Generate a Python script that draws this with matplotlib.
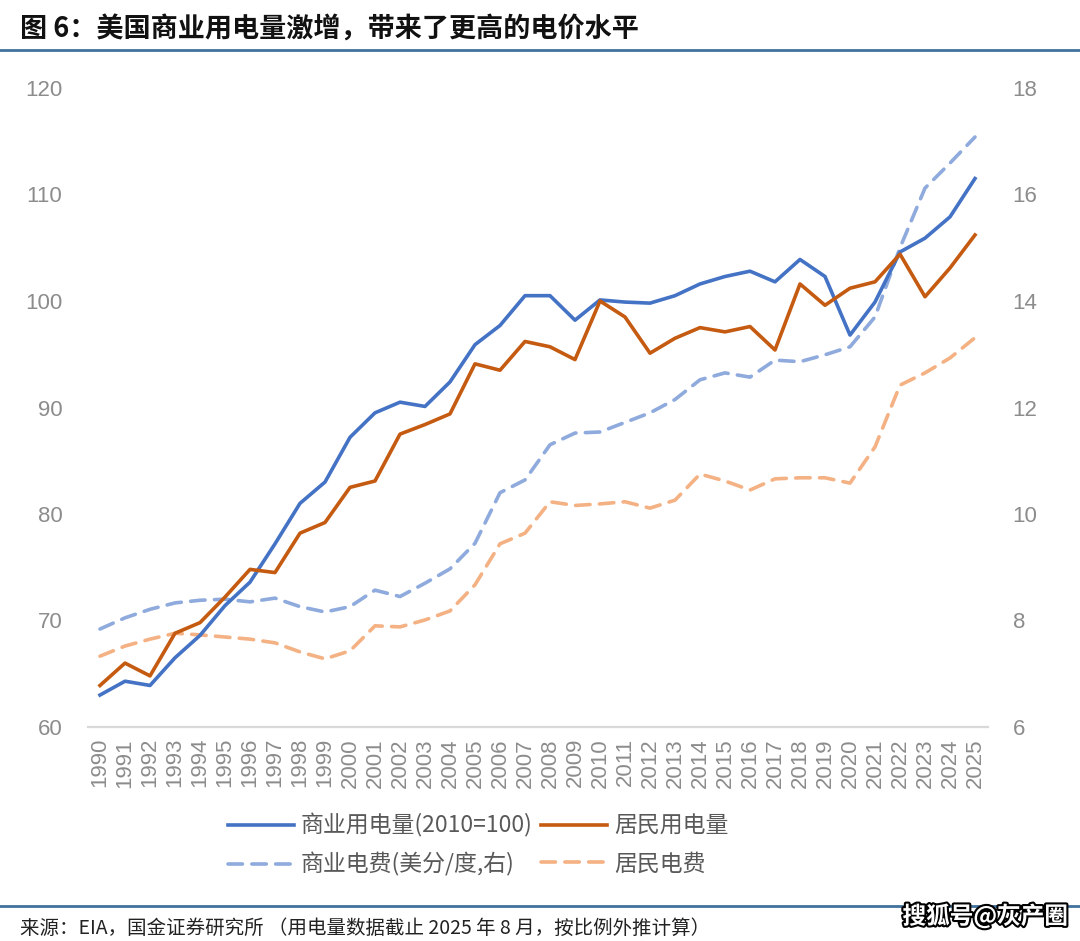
import matplotlib
matplotlib.use("Agg")
import matplotlib.pyplot as plt
from matplotlib.lines import Line2D
import matplotlib.patheffects as pe

plt.rcParams['font.family'] = ['Noto Sans CJK SC', 'DejaVu Sans']

years = list(range(1990, 2026))
year_labels = [str(y) for y in years]

commercial_use = [63.0, 64.3, 63.9, 66.5, 68.6, 71.4, 73.6, 77.2, 81.0, 83.0,
                  87.2, 89.5, 90.5, 90.1, 92.4, 95.9, 97.7, 100.5, 100.5, 98.2,
                  100.1, 99.9, 99.8, 100.5, 101.6, 102.3, 102.8, 101.8, 103.9, 102.3,
                  96.8, 99.9, 104.6, 105.9, 107.9, 111.5]
residential_use = [63.9, 66.0, 64.8, 68.8, 69.8, 72.2, 74.8, 74.5, 78.2, 79.2,
                   82.5, 83.1, 87.5, 88.4, 89.4, 94.1, 93.5, 96.2, 95.7, 94.5,
                   100.0, 98.5, 95.1, 96.5, 97.5, 97.1, 97.6, 95.4, 101.6, 99.6,
                   101.2, 101.8, 104.4, 100.4, 103.1, 106.2]
commercial_price = [7.84, 8.05, 8.21, 8.33, 8.38, 8.40, 8.35, 8.42, 8.26, 8.16,
                    8.26, 8.57, 8.45, 8.70, 8.97, 9.45, 10.40, 10.64, 11.30, 11.52,
                    11.54, 11.72, 11.90, 12.15, 12.52, 12.65, 12.57, 12.89, 12.86, 12.99,
                    13.14, 13.70, 15.00, 16.12, 16.59, 17.08]
residential_price = [7.33, 7.52, 7.65, 7.76, 7.73, 7.69, 7.65, 7.58, 7.41, 7.28,
                     7.43, 7.90, 7.88, 8.01, 8.18, 8.67, 9.44, 9.64, 10.23, 10.16,
                     10.19, 10.23, 10.11, 10.26, 10.75, 10.62, 10.45, 10.66, 10.68, 10.68,
                     10.58, 11.26, 12.42, 12.65, 12.93, 13.31]

left_ticks = [60, 70, 80, 90, 100, 110, 120]
right_ticks = [6, 8, 10, 12, 14, 16, 18]

labels = ['商业用电量(2010=100)', '居民用电量', '商业电费(美分/度,右)', '居民电费']
title = '图 6：美国商业用电量激增，带来了更高的电价水平'
source = '来源：EIA，国金证券研究所 （用电量数据截止 2025 年 8 月，按比例外推计算）'
watermark = '搜狐号@灰产圈'

c_blue = '#4472C4'
c_orange = '#C55A11'
c_lblue = '#8FAADC'
c_lorange = '#F4B183'
tick_col = '#8C8C8C'

W, H = 1080, 941
fig = plt.figure(figsize=(W / 100, H / 100), dpi=100)
ax = fig.add_axes([87.5 / W, 1 - 727 / H, 900 / W, 639 / H])
ax2 = ax.twinx()

lw = 2.6
dash = (4.0, 2.6)
l3, = ax2.plot(years, commercial_price, color=c_lblue, lw=lw, dashes=dash,
               dash_capstyle='round', zorder=1)
l4, = ax2.plot(years, residential_price, color=c_lorange, lw=lw, dashes=dash,
               dash_capstyle='round', zorder=1)
ax.set_zorder(ax2.get_zorder() + 1)
ax.patch.set_visible(False)
l1, = ax.plot(years, commercial_use, color=c_blue, lw=lw, zorder=3)
l2, = ax.plot(years, residential_use, color=c_orange, lw=lw, zorder=3)

ax.set_xlim(1989.5, 2025.5)
ax.set_ylim(60, 120)
ax2.set_ylim(6, 18)
ax.set_yticks(left_ticks)
ax.set_yticklabels([str(t) for t in left_ticks])
ax2.set_yticks(right_ticks)
ax2.set_yticklabels([str(t) for t in right_ticks])
ax.set_xticks(years)
ax.set_xticklabels(year_labels, rotation=90)

for a in (ax, ax2):
    for s in a.spines.values():
        s.set_visible(False)
    a.tick_params(length=0, colors=tick_col, labelsize=16)
    for lab in a.get_yticklabels() + a.get_xticklabels():
        lab.set_fontfamily(['Liberation Sans', 'DejaVu Sans'])
ax.spines['bottom'].set_visible(True)
ax.spines['bottom'].set_color('#D9D9D9')
ax.spines['bottom'].set_linewidth(1.6)
ax.tick_params(axis='y', pad=18)
ax2.tick_params(axis='y', pad=18)
ax.tick_params(axis='x', pad=8)

fig.legend([l1, l3, l2, l4], [labels[0], labels[2], labels[1], labels[3]],
           ncol=2, loc='center', bbox_to_anchor=(478 / W, 1 - 845 / H),
           frameon=False, fontsize=16.5, handlelength=2.9, handletextpad=0.3,
           columnspacing=0.35, labelspacing=0.65, labelcolor='#595959')

fig.text(20 / W, 1 - 30 / H, title, fontsize=19.5, fontweight='bold',
         color='#111111', va='center', ha='left')
fig.add_artist(Line2D([0, 1], [1 - 50 / H, 1 - 50 / H], transform=fig.transFigure,
                      color='#41719C', lw=2))
fig.add_artist(Line2D([0, 1], [1 - 906 / H, 1 - 906 / H], transform=fig.transFigure,
                      color='#41719C', lw=2))
fig.text(20 / W, 1 - 928 / H, source, fontsize=14, color='#222222',
         va='center', ha='left')
fig.text(1068 / W, 1 - 916 / H, watermark, fontsize=17, fontweight='bold',
         color='white', va='center', ha='right',
         path_effects=[pe.withStroke(linewidth=3, foreground='black')])

fig.savefig('out.png', dpi=100, facecolor='white')
